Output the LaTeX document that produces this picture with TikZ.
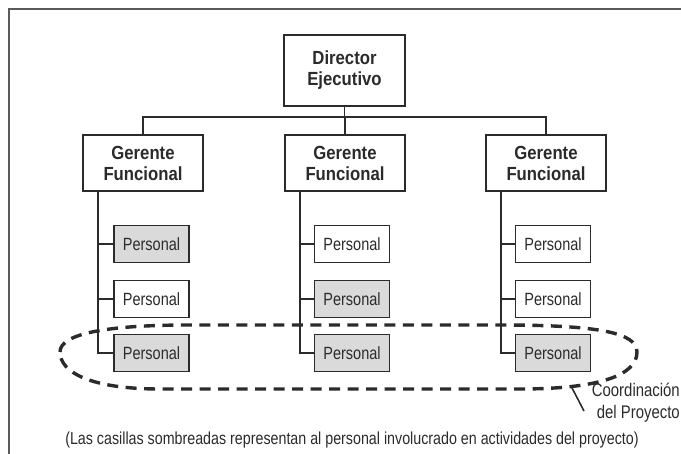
\documentclass[tikz,border=0pt]{standalone}
\usepackage{fontspec}
\setmainfont[FakeStretch=0.82]{Liberation Sans}
\newfontfamily\headfont[FakeStretch=0.88]{Liberation Sans}
\definecolor{ink}{HTML}{2B2B2B}
\definecolor{frame}{HTML}{5A5A5A}
\definecolor{shade}{HTML}{DADADA}
\begin{document}
\begin{tikzpicture}[x=1pt,y=-1pt,
  line join=miter,
  boss/.style={draw=ink,line width=1.7pt,fill=white,minimum width=121pt,minimum height=71pt,
    align=center,font=\headfont\bfseries\fontsize{19}{21}\selectfont,text=ink,inner sep=0pt},
  manager/.style={boss,minimum width=120pt,minimum height=56pt},
  staff/.style={draw=ink,line width=1.7pt,fill=white,minimum width=75pt,minimum height=37pt,
    font=\fontsize{17.7}{19}\selectfont,text=ink,inner sep=0pt},
  involved/.style={staff,fill=shade},
  link/.style={draw=ink,line width=1.7pt},
  coord/.style={draw=ink,line width=3.4pt,dash pattern=on 11pt off 7.5pt},
]
\useasboundingbox (0,0) rectangle (681,454);

% outer frame (only top and left edges fall inside the page)
\draw[frame,line width=2.4pt] (9,460) -- (9,9) -- (690,9);

% top level
\node[boss] (dir) at (344.5,70.5) {Director\\Ejecutivo};

% functional managers
\node[manager] (g1) at (143,163) {Gerente\\Funcional};
\node[manager] (g2) at (345,163) {Gerente\\Funcional};
\node[manager] (g3) at (546,163) {Gerente\\Funcional};

\coordinate (bus) at (0,117);
\draw[link] (dir.south) -- (dir.south |- bus) -| (g1.north);
\draw[link] (dir.south |- bus) -| (g2.north);
\draw[link] (dir.south |- bus) -| (g3.north);

% staff under each manager
\node[involved] (p11) at (151.5,244) {Personal};
\node[staff]    (p12) at (151.5,299) {Personal};
\node[involved] (p13) at (151.5,353) {Personal};

\node[staff]    (p21) at (352,244) {Personal};
\node[involved] (p22) at (352,299) {Personal};
\node[involved] (p23) at (352,353) {Personal};

\node[staff]    (p31) at (553,244) {Personal};
\node[staff]    (p32) at (553,299) {Personal};
\node[involved] (p33) at (553,353) {Personal};

\foreach \g/\a/\b/\c in {g1/p11/p12/p13, g2/p21/p22/p23, g3/p31/p32/p33}{
  \draw[link] ([xshift=16pt]\g.south west) |- (\c.west);
  \draw[link] ([xshift=16pt]\g.south west |- \a.west) -- (\a.west);
  \draw[link] ([xshift=16pt]\g.south west |- \b.west) -- (\b.west);
}

% project coordination loop
\draw[coord] (60,352) .. controls (60,333) and (110,325) .. (190,325) -- (500,325)
  .. controls (600,325) and (637,333) .. (637,352)
  .. controls (637,375) and (600,389) .. (520,389) -- (160,389)
  .. controls (90,389) and (60,372) .. cycle;

\node[anchor=north east,align=right,text=ink,inner sep=0pt,
  font=\fontsize{18.2}{22}\selectfont] (lbl) at (680,383) {Coordinación\\del Proyecto};
\coordinate (tip) at (571,386);
\coordinate (tail) at (584,411);
\draw[ink,line width=1.6pt] (tip) -- (tail);

\node[text=ink,font=\fontsize{17.4}{19}\selectfont,inner sep=0pt] (note) at (352,440)
  {(Las casillas sombreadas representan al personal involucrado en actividades del proyecto)};
\end{tikzpicture}
\end{document}
